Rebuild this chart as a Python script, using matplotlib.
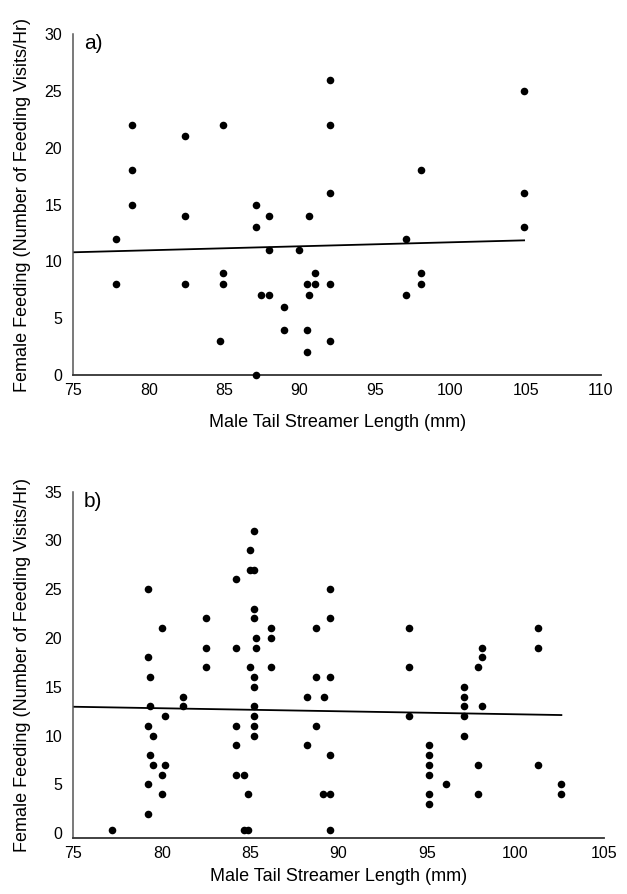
import numpy as np
import matplotlib.pyplot as plt

plt.rcParams['font.family'] = ['Liberation Sans', 'DejaVu Sans']

# panel a) - male tail streamer length vs female feeding rate
a_length = [77.8, 77.8, 78.9, 78.9, 78.9, 82.4, 82.4, 82.4, 84.9, 84.9,
            84.9, 84.75, 87.1, 87.1, 87.1, 87.45, 87.95, 87.95, 87.95, 88.95,
            88.95, 89.95, 90.65, 90.5, 91.0, 91.0, 90.65, 90.5, 90.5, 92.0,
            92.0, 92.0, 92.0, 92.0, 97.05, 97.05, 98.05, 98.05, 98.05, 104.9,
            104.9, 104.9]
a_feeding = [12, 8, 22, 18, 15, 21, 14, 8, 22, 9,
             8, 3, 15, 13, 0, 7, 14, 11, 7, 6,
             4, 11, 14, 8, 8, 9, 7, 4, 2, 26,
             22, 16, 8, 3, 12, 7, 18, 9, 8, 25,
             16, 13]
# trendline (start / end)
a_trend_x = [75, 104.9]
a_trend_y = [10.8, 11.85]

# panel b)
b_length = [77.2, 79.2, 79.2, 79.35, 79.35, 79.2, 79.5, 79.35, 79.5, 80.2,
            80.0, 79.2, 79.2, 80.0, 80.0, 80.2, 81.2, 81.2, 82.5, 82.5,
            82.5, 84.2, 84.2, 84.2, 84.2, 84.2, 84.65, 84.9, 84.65, 84.9,
            85.2, 85.0, 85.0, 85.2, 85.2, 85.2, 85.35, 85.35, 85.0, 85.2,
            85.2, 85.2, 85.2, 85.2, 85.2, 86.2, 86.2, 86.2, 88.2, 88.7,
            88.7, 88.7, 88.2, 89.2, 89.5, 89.5, 89.5, 89.5, 89.1, 89.5,
            89.5, 94.0, 94.0, 94.0, 95.1, 95.1, 95.1, 95.1, 95.1, 95.1,
            96.1, 97.1, 97.1, 97.1, 97.1, 97.1, 98.1, 98.1, 97.9, 98.1,
            97.9, 97.9, 101.3, 101.3, 101.3, 102.6, 102.6]
b_feeding = [0.3, 25, 18, 16, 13, 11, 10, 8, 7, 7,
             6, 5, 2, 4, 21, 12, 14, 13, 22, 19,
             17, 26, 19, 11, 9, 6, 6, 4, 0.3, 0.3,
             31, 29, 27, 27, 23, 22, 20, 19, 17, 16,
             15, 13, 12, 11, 10, 21, 20, 17, 14, 21,
             16, 11, 9, 14, 16, 25, 22, 8, 4, 4,
             0.3, 21, 17, 12, 9, 8, 7, 6, 4, 3,
             5, 15, 14, 13, 12, 10, 19, 18, 17, 13,
             7, 4, 21, 19, 7, 5, 4]
b_trend_x = [75, 102.6]
b_trend_y = [12.95, 12.1]

ylab = "Female Feeding (Number of Feeding Visits/Hr)"
xlab = "Male Tail Streamer Length (mm)"

fig = plt.figure(figsize=(6.27, 8.94), dpi=100)
ax_a = fig.add_axes([0.117, 0.5805, 0.8415, 0.3814])
ax_b = fig.add_axes([0.117, 0.0626, 0.846, 0.3876])


def draw_panel(ax, x, y, tx, ty, xlim, ylim, yticks, letter, title_pad):
    ax.scatter(x, y, s=30, color='black', linewidths=0, zorder=3, clip_on=False)
    ax.plot(tx, ty, color='black', lw=1.3, zorder=2)

    ax.set_xlim(*xlim)
    ax.set_ylim(*ylim)
    ax.set_xticks(np.arange(xlim[0], xlim[1] + 1, 5))
    ax.set_yticks(yticks)
    for s in ['top', 'right']:
        ax.spines[s].set_visible(False)
    ax.spines['left'].set_color('#555555')
    ax.spines['bottom'].set_color('#333333')
    ax.spines['left'].set_linewidth(1.1)
    ax.spines['bottom'].set_linewidth(1.3)
    ax.tick_params(length=0, labelsize=11.5, colors='black')
    ax.tick_params(axis='y', pad=8)
    ax.tick_params(axis='x', pad=6)
    ax.set_xlabel(xlab, fontsize=13, labelpad=title_pad)
    ax.set_ylabel(ylab, fontsize=13, labelpad=10)
    ax.text(0.02, 1.0, letter, transform=ax.transAxes, fontsize=15,
            va='top', ha='left')


draw_panel(ax_a, a_length, a_feeding, a_trend_x, a_trend_y,
           (75, 110), (0, 30), np.arange(0, 31, 5), "a)", 11)
draw_panel(ax_b, b_length, b_feeding, b_trend_x, b_trend_y,
           (75, 105), (-0.5, 35), np.arange(0, 36, 5), "b)", 5)

fig.savefig("out.png", dpi=100)
